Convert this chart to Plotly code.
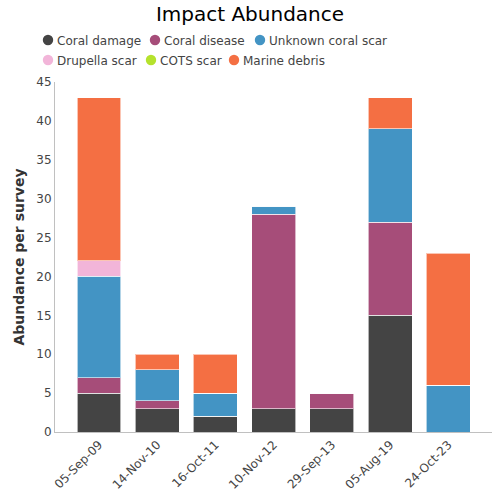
import plotly.graph_objects as go

categories = ["05-Sep-09", "14-Nov-10", "16-Oct-11", "10-Nov-12", "29-Sep-13", "05-Aug-19", "24-Oct-23"]
coral_damage = [5, 3, 2, 3, 3, 15, 0]
coral_disease = [2, 1, 0, 25, 2, 12, 0]
unknown_scar = [13, 4, 3, 1, 0, 12, 6]
drupella_scar = [2, 0, 0, 0, 0, 0, 0]
cots_scar = [0, 0, 0, 0, 0, 0, 0]
marine_debris = [21, 2, 5, 0, 0, 4, 17]

series_names = ["Coral damage", "Coral disease", "Unknown coral scar", "Drupella scar", "COTS scar", "Marine debris"]
series_values = [coral_damage, coral_disease, unknown_scar, drupella_scar, cots_scar, marine_debris]
series_colors = ["#444444", "#a64d79", "#4394c4", "#f2b5d9", "#b5e22d", "#f46f43"]
# legend entry: text start x, row centre y, symbol centre x (container px)
legend_pos = [(57, 40, 48), (164, 40, 155), (269, 40, 260), (57, 60, 48), (160, 60, 151), (243, 60, 234)]

W, H = 500, 500
ML, MR, MT, MB = 55, 8, 82, 68
PW, PH = W - ML - MR, H - MT - MB

fig = go.Figure()
for name, vals, color in zip(series_names, series_values, series_colors):
    fig.add_trace(go.Bar(
        x=categories, y=vals, name=name, showlegend=False,
        marker=dict(color=color, line=dict(color="rgba(255,255,255,0.6)", width=1)),
    ))

legend_layout = {}
shapes = []
for i, (name, color, (tx, ty, cx)) in enumerate(zip(series_names, series_colors, legend_pos)):
    key = "legend" if i == 0 else f"legend{i+1}"
    fig.add_trace(go.Scatter(
        x=[None], y=[None], mode="markers", name=name, legend=key,
        marker=dict(color="rgba(0,0,0,0)", size=10, symbol="circle"),
    ))
    legend_layout[key] = dict(
        orientation="h", xref="container", yref="container",
        x=(tx - 40) / W, xanchor="left", y=1 - ty / H, yanchor="middle",
        font=dict(size=12, color="#444444", family="DejaVu Sans"),
        itemwidth=30, bgcolor="rgba(0,0,0,0)", borderwidth=0,
    )
    r = 5.2
    shapes.append(dict(
        type="circle", xref="paper", yref="paper", layer="above",
        x0=(cx - r - ML) / PW, x1=(cx + r - ML) / PW,
        y0=(H - MB - (ty + r)) / PH, y1=(H - MB - (ty - r)) / PH,
        fillcolor=color, line=dict(width=0),
    ))

fig.update_layout(
    width=W, height=H,
    barmode="stack", bargap=0.245,
    plot_bgcolor="white", paper_bgcolor="white",
    font=dict(family="DejaVu Sans", color="#444444", size=12),
    title=dict(text="Impact Abundance", x=0.5, xanchor="center", xref="container",
               y=1 - 14 / H, yref="container", yanchor="middle",
               font=dict(size=20, color="#000000", family="DejaVu Sans")),
    margin=dict(l=ML, r=MR, t=MT, b=MB, autoexpand=False),
    xaxis=dict(range=[-0.756, 6.75], showline=True, linecolor="#c0c0c0", linewidth=1, tickangle=-45,
               automargin=False, tickfont=dict(size=12, color="#444444"), showgrid=False, ticks=""),
    yaxis=dict(range=[0, 45], dtick=5, showline=True, linecolor="#c0c0c0", linewidth=1, automargin=False,
               showgrid=False, zeroline=False, ticks="",
               tickfont=dict(size=12, color="#444444"),
               title=dict(text="Abundance per survey",
                          font=dict(size=14, color="#333333", weight="bold"), standoff=8)),
    shapes=shapes,
    **legend_layout,
)

fig.write_html("out.html", config={"displayModeBar": False},
               post_script="document.body.style.margin='0';")
